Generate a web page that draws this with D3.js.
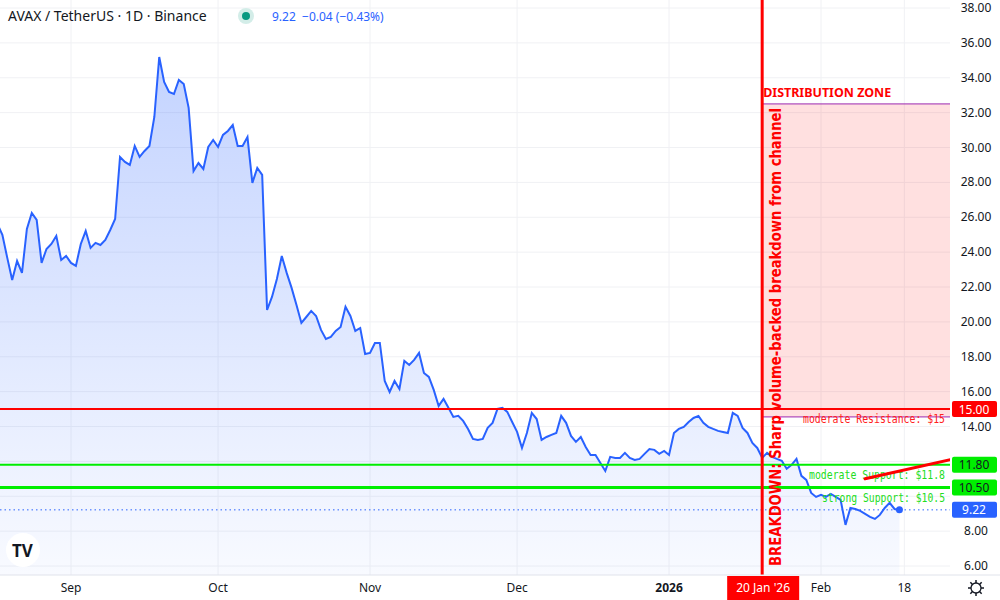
<!DOCTYPE html>
<html><head><meta charset="utf-8">
<script src="https://cdn.jsdelivr.net/npm/d3@7"></script>
<style>body{margin:0;background:#fff}svg{display:block;font-family:"Noto Sans",sans-serif}</style>
</head><body><svg id="c" width="1000" height="600"></svg>
<script>
const prices=[25.6,24.99,23.67,22.40,23.49,22.81,25.33,26.25,25.85,23.38,24.18,24.47,24.93,23.55,23.78,23.38,23.21,24.47,25.21,24.24,24.53,24.41,24.70,25.27,25.90,29.46,29.17,29.00,30.09,29.46,29.80,30.09,31.75,35.19,33.76,33.18,33.07,33.87,33.64,32.27,28.65,29.11,28.77,30.03,30.43,30.03,30.72,30.95,31.29,30.09,30.09,30.60,27.97,28.83,28.43,20.68,21.43,22.46,23.78,22.81,21.95,20.97,19.94,20.28,20.63,20.34,19.54,19.02,19.14,19.48,19.71,20.86,20.34,19.48,19.65,18.16,18.22,18.79,18.79,16.61,15.98,16.61,16.15,17.76,17.53,17.82,18.22,17.07,16.84,16.10,15.18,15.58,15.07,14.55,14.61,14.32,13.86,13.29,13.23,13.29,13.92,14.21,15.01,15.07,14.84,14.26,13.69,12.77,13.63,14.78,14.43,13.23,13.40,13.52,13.63,14.61,14.21,13.46,13.12,13.40,12.83,12.37,12.37,11.91,11.45,12.26,12.20,12.20,12.49,12.20,12.08,12.14,12.43,12.71,12.66,12.43,12.60,12.37,13.63,13.86,13.98,14.26,14.49,14.61,14.21,13.98,13.86,13.75,13.69,13.63,14.78,14.61,13.92,13.63,13.06,12.77,12.20,12.49,12.26,12.14,12.03,11.57,11.80,12.14,11.17,10.94,10.19,9.96,10.08,9.96,10.13,9.96,9.79,8.36,9.33,9.27,9.16,8.99,8.82,8.70,8.93,9.33,9.62,9.27,9.22];
const endDate=new Date(2026,1,17);
const yTicks=[6,8,10,12,14,16,18,20,22,24,26,28,30,32,34,36,38];
const xTickDates=[[new Date(2025,8,1),"Sep"],[new Date(2025,9,1),"Oct"],[new Date(2025,10,1),"Nov"],[new Date(2025,11,1),"Dec"],[new Date(2026,0,1),"2026"],[new Date(2026,1,1),"Feb"],[new Date(2026,1,18),"18"]];
const levels=[{v:15,c:"#ff0000",tc:"#ff2020",label:"moderate Resistance: $15",box:"15.00",w:2,dy:14,len:142},{v:11.8,c:"#00ee00",tc:"#22dd22",label:"moderate Support: $11.8",box:"11.80",w:2,dy:14,len:136},{v:10.5,c:"#00ee00",tc:"#22dd22",label:"strong Support: $10.5",box:"10.50",w:3,dy:14,len:123}];
const breakDate=new Date(2026,0,20);
const zone=[14.55,32.5];
const trend=[[new Date(2026,1,10),11.0],[new Date(2026,2,1),12.2]];
const last=9.22;

const data=prices.map((v,i)=>({d:d3.timeDay.offset(endDate,i-prices.length+1),v}));
const svg=d3.select("#c");
const W=950,B=575;
svg.append("defs").append("clipPath").attr("id","cp").append("rect").attr("width",W).attr("height",B);
const x=d3.scaleTime().domain([new Date(2025,8,1),new Date(2026,1,1)]).range([71,821]);
const y=d3.scaleLinear().domain([6,38]).range([566,8]);
const g=svg.append("g").attr("clip-path","url(#cp)");
g.selectAll(".hg").data(yTicks).join("line").attr("x1",0).attr("x2",W).attr("y1",d=>y(d)).attr("y2",d=>y(d)).attr("stroke","#f0f1f4");
g.selectAll(".vg").data(xTickDates).join("line").attr("x1",d=>x(d[0])).attr("x2",d=>x(d[0])).attr("y1",0).attr("y2",B).attr("stroke","#f0f1f4");
const xb=x(breakDate);
g.append("rect").attr("x",xb).attr("width",W-xb).attr("y",y(zone[1])).attr("height",y(zone[0])-y(zone[1])).attr("fill","rgba(255,0,0,0.12)");
g.append("line").attr("x1",xb).attr("x2",W).attr("y1",y(zone[1])).attr("y2",y(zone[1])).attr("stroke","#9c27b0");
g.append("line").attr("x1",xb).attr("x2",W).attr("y1",y(zone[0])).attr("y2",y(zone[0])).attr("stroke","#9c27b0");
g.append("text").attr("x",xb+1).attr("y",y(zone[1])-7).attr("fill","#ff0000").attr("font-size",12).attr("font-weight","bold").attr("textLength",128).attr("lengthAdjust","spacingAndGlyphs").text("DISTRIBUTION ZONE");
const gr=svg.select("defs").append("linearGradient").attr("id","gr").attr("x1",0).attr("x2",0).attr("y1",0).attr("y2",1);
gr.append("stop").attr("offset",0).attr("stop-color","rgba(41,98,255,0.28)");
gr.append("stop").attr("offset",1).attr("stop-color","rgba(41,98,255,0.03)");
g.append("path").datum(data).attr("fill","url(#gr)").attr("d",d3.area().x(d=>x(d.d)).y0(B).y1(d=>y(d.v)));
g.append("line").attr("x1",0).attr("x2",W).attr("y1",y(last)).attr("y2",y(last)).attr("stroke","#2962ff").attr("stroke-dasharray","1.5,3");
g.append("path").datum(data).attr("fill","none").attr("stroke","#2962ff").attr("stroke-width",2).attr("d",d3.line().x(d=>x(d.d)).y(d=>y(d.v)));
g.append("circle").attr("cx",x(data[data.length-1].d)).attr("cy",y(last)).attr("r",3.5).attr("fill","#2962ff");
levels.forEach(l=>{
 g.append("line").attr("x1",0).attr("x2",W).attr("y1",y(l.v)).attr("y2",y(l.v)).attr("stroke",l.c).attr("stroke-width",l.w);
 g.append("text").attr("x",945).attr("y",y(l.v)+l.dy).attr("text-anchor","end").attr("fill",l.tc).attr("font-size",13).attr("font-family","DejaVu Sans Mono").attr("textLength",l.len).attr("lengthAdjust","spacingAndGlyphs").text(l.label);
});
g.append("line").attr("x1",x(trend[0][0])).attr("y1",y(trend[0][1])).attr("x2",x(trend[1][0])).attr("y2",y(trend[1][1])).attr("stroke","#ff0000").attr("stroke-width",3).attr("stroke-linecap","round");
g.append("line").attr("x1",xb).attr("x2",xb).attr("y1",0).attr("y2",B).attr("stroke","#ff0000").attr("stroke-width",3);
g.append("text").attr("transform",`translate(${xb+19},566) rotate(-90)`).attr("fill","#ff0000").attr("font-size",15).attr("font-weight","bold").attr("font-family","DejaVu Sans").attr("textLength",458).attr("lengthAdjust","spacingAndGlyphs").text("BREAKDOWN: Sharp volume-backed breakdown from channel");
svg.append("line").attr("x1",0).attr("x2",1000).attr("y1",B).attr("y2",B).attr("stroke","#e0e3eb");
svg.selectAll(".yt").data(yTicks.filter(t=>t!==10&&t!==12)).join("text").attr("x",976).attr("y",d=>y(d)+4).attr("text-anchor","middle").attr("font-size",12).attr("fill","#131722").text(d=>d.toFixed(2));
[[15,"#ff0000","15.00"],[11.8,"#00ee00","11.80"],[10.5,"#00ee00","10.50"],[last,"#2962ff","9.22"]].forEach(([v,c,t])=>{
 svg.append("rect").attr("x",952).attr("y",y(v)-8).attr("width",45).attr("height",16).attr("rx",2).attr("fill",c);
 svg.append("text").attr("x",974).attr("y",y(v)+4.5).attr("text-anchor","middle").attr("font-size",12).attr("fill",c==="#00ee00"?"#131722":"#fff").text(t);
});
svg.selectAll(".xt").data(xTickDates).join("text").attr("x",d=>x(d[0])).attr("y",592).attr("text-anchor","middle").attr("font-size",12).attr("fill","#131722").attr("font-weight",d=>d[1]==="2026"?"bold":"normal").text(d=>d[1]);
svg.append("rect").attr("x",xb-35).attr("y",576).attr("width",72).attr("height",24).attr("fill","#ff0000");
svg.append("text").attr("x",xb+1).attr("y",592).attr("text-anchor","middle").attr("font-size",12).attr("fill","#fff").text("20 Jan '26");
const gg=svg.append("g").attr("transform","translate(976,588)");
gg.append("circle").attr("r",5).attr("fill","none").attr("stroke","#131722").attr("stroke-width",1.3);
d3.range(8).forEach(i=>gg.append("line").attr("x1",0).attr("y1",5).attr("x2",0).attr("y2",8).attr("stroke","#131722").attr("stroke-width",1.5).attr("transform",`rotate(${i*45})`));
svg.append("text").attr("x",8).attr("y",21).attr("font-size",14).attr("fill","#131722").text("AVAX / TetherUS · 1D · Binance");
svg.append("circle").attr("cx",246).attr("cy",16).attr("r",8).attr("fill","#d3ede8");
svg.append("circle").attr("cx",246).attr("cy",16).attr("r",4).attr("fill","#089981");
svg.append("text").attr("x",272).attr("y",21).attr("font-size",12).attr("fill","#2962ff").attr("xml:space","preserve").text("9.22  −0.04 (−0.43%)");
const lg=svg.append("g").attr("transform","translate(10,543)");
lg.append("circle").attr("cx",13).attr("cy",7).attr("r",17).attr("fill","#fff");
lg.append("text").attr("x",2).attr("y",14).attr("font-size",17).attr("font-weight","bold").attr("fill","#131722").text("TV");
</script></body></html>
